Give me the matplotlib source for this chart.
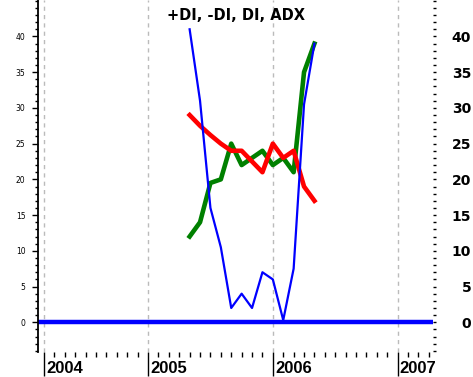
import matplotlib
matplotlib.use('Agg')
import matplotlib.pyplot as plt
from matplotlib.ticker import FixedLocator, MultipleLocator

# monthly readings, May 2005 .. May 2006
dates = ['2005-05', '2005-06', '2005-07', '2005-08', '2005-09', '2005-10', '2005-11',
         '2005-12', '2006-01', '2006-02', '2006-03', '2006-04', '2006-05']
adx = [12, 14, 19.5, 20, 25, 22, 23, 24, 22, 23, 21, 35, 39]          # green
minus_di = [29, 27.5, 26.2, 25, 24, 24, 22.5, 21, 25, 23, 24, 19, 17]  # red
di = [41, 31, 16, 10.5, 2, 4, 2, 7, 6, 0.3, 7.5, 30.5, 39]          # blue thin
zero_line = [0, 0]

years = ['2004', '2005', '2006', '2007']
year_pos = [-10, 0, 12, 24]   # months from Jan 2005 (first bar sits a bit late)
left_ticks = [0, 5, 10, 15, 20, 25, 30, 35, 40]


def to_month(s):
    y, m = s.split('-')
    return (int(y) - 2005) * 12 + int(m) - 1


x = [to_month(d) for d in dates]

fig = plt.figure(figsize=(4.73, 3.77), dpi=100)
ax = fig.add_axes([38 / 473, 25 / 377, (433 - 38) / 473, 352 / 377])
xmin, xmax = -10.58, 27.4
ax.set_xlim(xmin, xmax)
ax.set_ylim(-4.16, 45.1)

# year grid
for xp in year_pos:
    ax.axvline(xp, color='#bbbbbb', linestyle=(0, (3, 3)), linewidth=1, zorder=0)

ax.plot([xmin, xmax], zero_line, color='#0000ff', linewidth=3.2, solid_capstyle='butt', zorder=2)
ax.plot(x, adx, color='#008000', linewidth=3.3, zorder=3)
ax.plot(x, minus_di, color='#ff0000', linewidth=3.3, zorder=4)
ax.plot(x, di, color='#0000ff', linewidth=1.6, zorder=5)

for s in ['top', 'right', 'bottom']:
    ax.spines[s].set_visible(False)
ax.spines['left'].set_linewidth(1.3)

# left axis: small labels
ax.yaxis.set_major_locator(FixedLocator(left_ticks))
ax.yaxis.set_minor_locator(MultipleLocator(1))
ax.tick_params(axis='y', which='major', length=4, width=1, pad=5, labelsize=5.5)
ax.tick_params(axis='y', which='minor', length=2.2, width=1)

# x axis: long bars at years, short monthly ticks
ax.xaxis.set_major_locator(FixedLocator(year_pos))
ax.xaxis.set_minor_locator(FixedLocator([m for m in range(-9, 28) if m not in year_pos]))
ax.tick_params(axis='x', which='major', length=17.5, width=1, labelbottom=False)
ax.tick_params(axis='x', which='minor', length=3.5, width=1)
for yr, xp in zip(years, year_pos):
    ax.text(xp + 0.2, -0.048, yr, transform=ax.get_xaxis_transform(), ha='left', va='center',
            fontsize=12, fontweight='bold', family='Liberation Sans', clip_on=False)

# right axis: bold labels, tick every unit
ax2 = ax.twinx()
ax2.set_ylim(ax.get_ylim())
for s in ax2.spines.values():
    s.set_visible(False)
ax2.yaxis.set_major_locator(FixedLocator(left_ticks))
ax2.yaxis.set_minor_locator(MultipleLocator(1))
ax2.tick_params(axis='y', which='both', length=2.5, width=1)
ax2.tick_params(axis='y', which='major', pad=25)
for lab in ax2.get_yticklabels():
    lab.set_horizontalalignment('right')
    lab.set_fontweight('bold')
    lab.set_fontsize(10)

fig.text(236 / 473, 1 - 15 / 377, '+DI, -DI, DI, ADX', ha='center', va='center',
         fontsize=10.5, fontweight='bold')

fig.savefig('out.png', dpi=100)
